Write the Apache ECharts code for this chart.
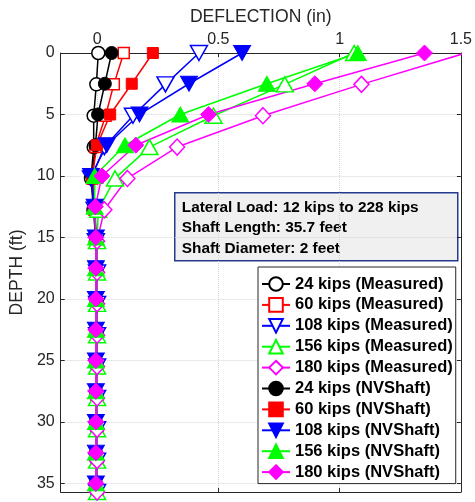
<!DOCTYPE html>
<html><head><meta charset="utf-8">
<script src="https://cdn.jsdelivr.net/npm/echarts@6/dist/echarts.min.js"></script>
<style>html,body{margin:0;padding:0;background:#fff}#c{width:475px;height:502px}</style>
</head><body><div id="c"></div>
<script>
// Depths (ft)
const measuredDepth = [0, 2.55, 5.1, 7.65, 10.2, 12.75, 15.3, 17.85, 20.4, 22.95, 25.5, 28.05, 30.6, 33.15, 35.7];
const nvDepth = [0, 2.5, 5, 7.5, 10, 12.5, 15, 17.5, 20, 22.5, 25, 27.5, 30, 32.5, 35];

// Deflections (in) - measured
const m24  = [0.005, -0.003, -0.014, -0.014, -0.025, -0.015, -0.005, 0, 0, 0, 0, 0, 0, 0, 0];
const m60  = [0.11, 0.069, 0.035, -0.007, -0.02, -0.01, -0.005, 0, 0, 0, 0, 0, 0, 0, 0];
const m108 = [0.42, 0.282, 0.148, 0.03, -0.025, -0.01, -0.005, 0, 0, 0, 0, 0, 0, 0, 0];
const m156 = [1.06, 0.774, 0.48, 0.216, 0.074, 0.005, 0, 0, 0, 0, 0, 0, 0, 0, 0];
const m180 = [1.52, 1.09, 0.684, 0.33, 0.125, 0.03, 0, 0, 0, 0, 0, 0, 0, 0, 0];
// Deflections (in) - NVShaft
const n24  = [0.06, 0.032, 0.004, -0.007, -0.02, -0.01, -0.005, -0.005, -0.005, -0.005, -0.005, -0.005, -0.005, -0.005, -0.005];
const n60  = [0.23, 0.143, 0.054, 0.0, -0.02, -0.01, -0.005, -0.005, -0.005, -0.005, -0.005, -0.005, -0.005, -0.005, -0.005];
const n108 = [0.598, 0.379, 0.175, 0.04, -0.025, -0.01, -0.005, -0.005, -0.005, -0.005, -0.005, -0.005, -0.005, -0.005, -0.005];
const n156 = [1.075, 0.70, 0.343, 0.115, -0.01, -0.01, -0.005, -0.005, -0.005, -0.005, -0.005, -0.005, -0.005, -0.005, -0.005];
const n180 = [1.35, 0.898, 0.46, 0.16, 0.02, -0.007, -0.005, -0.005, -0.005, -0.005, -0.005, -0.005, -0.005, -0.005, -0.005];

const xTicks = [0, 0.5, 1, 1.5];
const infoLines = ['Lateral Load: 12 kips to 228 kips', 'Shaft Length: 35.7 feet', 'Shaft Diameter: 2 feet'];

const FONT = '"Liberation Sans", Arial, Helvetica, sans-serif';
const AX = '#262626';

function mk(name, vals, depths, color, symbol, rotate, size, filled) {
  return {
    type: 'line', name: name,
    data: depths.map((d, i) => [vals[i], d]),
    symbol: symbol, symbolSize: size, symbolRotate: rotate,
    showAllSymbol: true, clip: true,
    lineStyle: { color: color, width: 1.5 },
    itemStyle: { color: filled ? color : '#ffffff', borderColor: color, borderWidth: filled ? 1 : 1.5 },
    emphasis: { disabled: true },
    animation: false
  };
}

const series = [
  mk('24 kips (Measured)', m24, measuredDepth, '#000000', 'circle', 0, 13, false),
  mk('60 kips (Measured)', m60, measuredDepth, '#ff0000', 'rect', 0, 11, false),
  mk('108 kips (Measured)', m108, measuredDepth, '#0000ff', 'triangle', 180, [17, 15], false),
  mk('156 kips (Measured)', m156, measuredDepth, '#00ff00', 'triangle', 0, [17, 15], false),
  mk('180 kips (Measured)', m180, measuredDepth, '#ff00ff', 'diamond', 0, [15, 16], false),
  mk('24 kips (NVShaft)', n24, nvDepth, '#000000', 'circle', 0, 13, true),
  mk('60 kips (NVShaft)', n60, nvDepth, '#ff0000', 'rect', 0, 11, true),
  mk('108 kips (NVShaft)', n108, nvDepth, '#0000ff', 'triangle', 180, [17, 15], true),
  mk('156 kips (NVShaft)', n156, nvDepth, '#00ff00', 'triangle', 0, [17, 15], true),
  mk('180 kips (NVShaft)', n180, nvDepth, '#ff00ff', 'diamond', 0, [16, 16], true)
];

const chart = echarts.init(document.getElementById('c'), null, { renderer: 'canvas' });
chart.setOption({
  animation: false,
  backgroundColor: '#ffffff',
  textStyle: { fontFamily: FONT },
  grid: { left: 57, top: 53, right: 12, bottom: 10, containLabel: false },
  xAxis: [{
    type: 'value', position: 'top', min: -0.15, max: 1.5,
    name: 'DEFLECTION (in)', nameLocation: 'middle', nameGap: 27,
    nameTextStyle: { fontSize: 17.6, color: AX, fontFamily: FONT },
    axisLine: { show: true, onZero: false, lineStyle: { color: AX, width: 1 } },
    axisTick: { show: true, inside: true, length: 4, customValues: xTicks, lineStyle: { color: AX } },
    axisLabel: { customValues: xTicks, fontSize: 16, color: AX, margin: 5, fontFamily: FONT },
    splitLine: { show: true, lineStyle: { color: '#d4d4d4', type: 'dotted', width: 1 } }
  }, {
    type: 'value', position: 'bottom', min: -0.15, max: 1.5,
    axisLine: { show: true, onZero: false, lineStyle: { color: AX, width: 1 } },
    axisTick: { show: true, inside: true, length: 4, customValues: xTicks, lineStyle: { color: AX } },
    axisLabel: { show: false },
    splitLine: { show: false }
  }],
  yAxis: [{
    type: 'value', inverse: true, min: 0, max: 35.7, interval: 5,
    name: 'DEPTH (ft)', nameLocation: 'middle', nameGap: 21, nameRotate: 90,
    nameTextStyle: { fontSize: 17.6, color: AX, fontFamily: FONT },
    axisLine: { show: true, onZero: false, lineStyle: { color: AX, width: 1 } },
    axisTick: { show: true, inside: true, length: 4, lineStyle: { color: AX } },
    axisLabel: { fontSize: 16, color: AX, margin: 6, showMaxLabel: false, fontFamily: FONT },
    splitLine: { show: true, lineStyle: { color: '#d4d4d4', type: 'dotted', width: 1 } }
  }, {
    type: 'value', position: 'right', inverse: true, min: 0, max: 35.7, interval: 5,
    axisLine: { show: true, onZero: false, lineStyle: { color: AX, width: 1 } },
    axisTick: { show: true, inside: true, length: 4, lineStyle: { color: AX } },
    axisLabel: { show: false },
    splitLine: { show: false }
  }],
  legend: {
    orient: 'vertical', left: 258, top: 267,
    itemWidth: 28, itemHeight: 17, itemGap: 3.9,
    backgroundColor: '#ffffff', borderColor: AX, borderWidth: 1,
    padding: [8.5, 3, 3, 3],
    textStyle: { fontFamily: FONT, fontWeight: 'bold', fontSize: 16.5, lineHeight: 17, color: '#000' },
    data: series.map(s => s.name),
    selectedMode: false, z: 6
  },
  graphic: [{
    type: 'group', left: 174, top: 192, z: 10,
    children: [
      { type: 'rect', shape: { x: 0, y: 0, width: 283, height: 68 }, style: { fill: '#f0f0f0', stroke: '#243a8e', lineWidth: 1.5 } },
      { type: 'text', x: 7, y: 15, style: { text: infoLines[0], font: 'bold 15.4px ' + FONT, fill: '#000', verticalAlign: 'middle' } },
      { type: 'text', x: 7, y: 35, style: { text: infoLines[1], font: 'bold 15.4px ' + FONT, fill: '#000', verticalAlign: 'middle' } },
      { type: 'text', x: 7, y: 56, style: { text: infoLines[2], font: 'bold 15.4px ' + FONT, fill: '#000', verticalAlign: 'middle' } }
    ]
  }],
  series: series
});
</script>
</body></html>
